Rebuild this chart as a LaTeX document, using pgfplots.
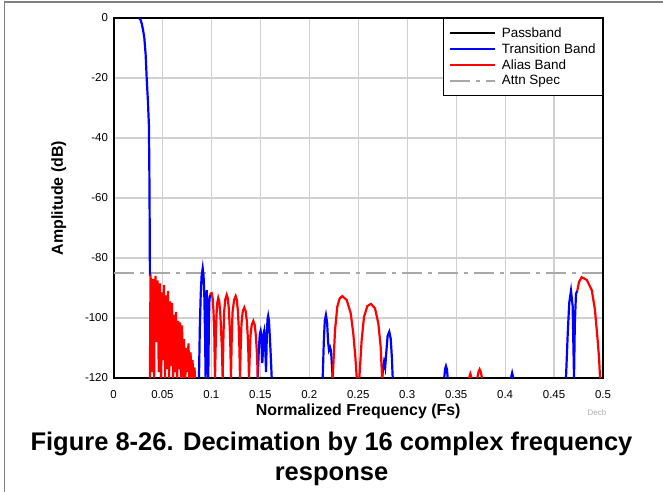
\documentclass[border=0pt]{standalone}
\usepackage{fontspec}
\setmainfont{Liberation Sans}
\usepackage{pgfplots}
\pgfplotsset{compat=1.18}
\definecolor{gridgray}{HTML}{D0D0D0}
\definecolor{specgray}{HTML}{A8A8A8}
\definecolor{framegray}{HTML}{808080}
\definecolor{tblue}{HTML}{0000FF}
\definecolor{ared}{HTML}{FF0000}
\definecolor{decbgray}{HTML}{B0B0B0}
\begin{document}
\begin{tikzpicture}
\path[use as bounding box] (0,0) rectangle (663bp,-492bp);
\draw[framegray, line width=1.5bp] (4.5bp,-492bp) -- (4.5bp,-2bp) -- (663bp,-2bp);
\begin{axis}[
 at={(113.5bp,-378bp)}, anchor=south west,
 width=489.5bp, height=360bp, scale only axis,
 xmin=0, xmax=0.5, ymin=-120, ymax=0,
 xtick={0,0.05,0.1,0.15,0.2,0.25,0.3,0.35,0.4,0.45,0.5},
 xticklabels={0,0.05,0.1,0.15,0.2,0.25,0.3,0.35,0.4,0.45,0.5},
 ytick={-120,-100,-80,-60,-40,-20,0},
 yticklabels={-120,-100,-80,-60,-40,-20,0},
 tick style={draw=none},
 grid=major, major grid style={gridgray, line width=1.2bp},
 axis line style={black, line width=2bp},
 ticklabel style={font=\fontsize{11.5}{13}\selectfont},
 xticklabel style={yshift=-9bp},
 yticklabel style={xshift=-2bp},
 xlabel={Normalized Frequency (Fs)}, ylabel={Amplitude (dB)},
 label style={font=\bfseries\fontsize{16}{18}\selectfont},
 xlabel style={yshift=2bp},
 ylabel style={yshift=12bp},
 unbounded coords=jump,
 legend cell align=left,
 legend style={at={(1,1)}, anchor=north east, draw=black, line width=1bp,
   font=\fontsize{13.5}{15}\selectfont, inner xsep=5bp, inner ysep=7bp,
   row sep=0.8bp},
 legend image code/.code={\draw[#1] (0bp,0bp) -- (45bp,0bp); \path (49bp,0bp);},
]
% attenuation spec (drawn first, behind curves)
\addplot[specgray, line width=2.2bp, dash pattern=on 20bp off 6bp on 4bp off 6bp, forget plot] coordinates {(0,-85) (0.5,-85)};
% passband
\addplot[black, line width=2.2bp] coordinates {(0,0) (0.0262,0)};
\addlegendentry{Passband}
% transition band
\addplot[tblue, line width=2.2bp] coordinates {
(0.0262,0) (0.0275,-0.5) (0.0288,-1.8) (0.0302,-4) (0.0315,-6.7) (0.0328,-12) (0.0339,-20) (0.0352,-28) (0.0362,-36) (0.0366,-50) (0.0369,-65) (0.0372,-86)
(0.05,nan)
(0.0873,-120) (0.0882,-103) (0.0891,-92) (0.09,-86) (0.0911,-83.4) (0.092,-86) (0.0928,-93) (0.0935,-105) (0.0941,-120)
(0.0945,-100) (0.0952,-90.7) (0.0959,-98) (0.0968,-120)
(0.0975,-100) (0.098,-94) (0.0986,-92.3)
(0.12,nan)
(0.1473,-120) (0.1485,-110) (0.1495,-105.3) (0.1503,-104.3) (0.1511,-106) (0.152,-115) (0.1528,-110) (0.1534,-105.3) (0.154,-104.3) (0.1548,-107) (0.1558,-118) (0.1566,-106) (0.1573,-100.5) (0.158,-99.3) (0.1588,-101) (0.1598,-107) (0.1607,-113) (0.1616,-120)
(0.19,nan)
(0.2137,-120) (0.2148,-108) (0.2158,-101) (0.217,-99) (0.2182,-101.5) (0.2192,-108) (0.2201,-110.7) (0.2212,-109.8) (0.2222,-111) (0.2239,-120)
(0.25,nan)
(0.2745,-120) (0.2755,-116) (0.2763,-114.6) (0.2775,-116.5) (0.2785,-112) (0.28,-106) (0.2817,-104.6) (0.2832,-107) (0.2843,-113) (0.2852,-120)
(0.3,nan)
(0.3378,-120) (0.3387,-117) (0.3396,-116) (0.3405,-117) (0.3414,-120)
(0.38,nan)
(0.406,-120) (0.4072,-118.3) (0.4084,-120)
(0.43,nan)
(0.4622,-120) (0.464,-105) (0.4655,-95) (0.4673,-90.9) (0.469,-96) (0.4704,-120)
(0.4712,-102) (0.4724,-92) (0.4737,-90.9)
};
\addlegendentry{Transition Band}
% alias band
\addplot[ared, line width=2.2bp] coordinates {
(0.0372,-120) (0.0378,-85.5) (0.0386,-92) (0.039,-118) (0.0396,-95) (0.0403,-87) (0.041,-100) (0.0415,-120) (0.0421,-94) (0.0429,-86) (0.0437,-95) (0.0441,-108) (0.0445,-92) (0.0449,-87.5) (0.0458,-105) (0.0462,-118) (0.0468,-93) (0.0475,-88.5) (0.0482,-102) (0.0486,-120) (0.049,-96) (0.0495,-91.5) (0.05,-105) (0.0505,-114) (0.051,-93) (0.0516,-89) (0.0523,-106) (0.0527,-120) (0.0531,-97) (0.0536,-92.5) (0.0543,-108) (0.0547,-117) (0.0552,-95) (0.0557,-91) (0.0564,-112) (0.0568,-120) (0.0572,-99) (0.0577,-94.5) (0.0584,-110) (0.0588,-116) (0.0593,-98) (0.0598,-95) (0.0605,-112) (0.0609,-120) (0.0613,-103) (0.0618,-99) (0.0625,-113) (0.0629,-118) (0.0633,-102) (0.0638,-98) (0.0645,-114) (0.065,-120) (0.0654,-105) (0.0659,-101) (0.0666,-114) (0.067,-117) (0.0674,-105) (0.0679,-101.5) (0.0686,-115) (0.069,-120) (0.0695,-106) (0.07,-102.5) (0.0707,-116) (0.0712,-120) (0.0716,-110) (0.072,-107) (0.0728,-118) (0.0733,-120) (0.0741,-113) (0.0746,-110) (0.0754,-118) (0.0758,-115) (0.0762,-111) (0.0766,-108.5) (0.0774,-120) (0.0782,-114) (0.0787,-111.5) (0.0796,-120) (0.0802,-116) (0.0807,-114) (0.0815,-120) (0.0822,-118) (0.0827,-116.5) (0.0833,-120)
(0.09,nan)
(0.0986,-92.3) (0.0995,-91.8) (0.1003,-91.7) (0.1013,-93.5) (0.1022,-98) (0.103,-106) (0.1037,-120)
(0.1045,-107) (0.1052,-99) (0.106,-95) (0.107,-93.3) (0.108,-94.5) (0.109,-98) (0.1099,-104) (0.1107,-110) (0.1115,-120)
(0.1123,-106) (0.113,-98) (0.1142,-93.8) (0.1156,-92.3) (0.1168,-93.5) (0.1178,-97) (0.1187,-103) (0.1194,-110) (0.12,-120)
(0.1208,-106) (0.1216,-98) (0.1232,-94) (0.1248,-92.7) (0.126,-94) (0.127,-97.5) (0.1279,-103) (0.1286,-110) (0.1292,-120)
(0.1299,-110) (0.1307,-102) (0.132,-97.8) (0.1336,-96.5) (0.135,-97.8) (0.1362,-101) (0.1371,-106) (0.1378,-112) (0.1384,-120)
(0.1391,-113) (0.1399,-106) (0.1412,-102.3) (0.1428,-101) (0.1442,-102.3) (0.1453,-105.5) (0.1462,-110) (0.1468,-114) (0.1473,-120)
(0.18,nan)
(0.2239,-120) (0.2263,-104) (0.2286,-96.2) (0.231,-93.5) (0.2337,-92.7) (0.2382,-94) (0.2423,-98.4) (0.2449,-105.1) (0.247,-112.9) (0.2484,-119.6) (0.2487,-120)
(0.25,nan)
(0.2511,-120) (0.2535,-107.3) (0.2559,-99.6) (0.2593,-96) (0.263,-95.3) (0.2671,-96.8) (0.2705,-101.8) (0.2729,-109.6) (0.2743,-119.6) (0.2745,-120)
(0.3,nan)
(0.3632,-120) (0.3645,-118.6) (0.3658,-120)
(0.37,nan)
(0.3716,-120) (0.3728,-118) (0.374,-117.1) (0.3752,-118) (0.3764,-120)
(0.42,nan)
(0.4737,-90.9) (0.4755,-88) (0.4782,-86.4) (0.4834,-87.3) (0.4885,-90.7) (0.4918,-97.3) (0.4942,-106.2) (0.4959,-112.9) (0.4969,-119.6) (0.4972,-120)
};
\addlegendentry{Alias Band}
\addlegendimage{specgray, line width=2.2bp, dash pattern=on 20bp off 6bp on 4bp off 6bp}
\addlegendentry{Attn Spec}
\end{axis}
\node[font=\bfseries\fontsize{25.6}{28}\selectfont, anchor=base] at (331.5bp,-450bp) {Figure 8-26. Decimation by 16 complex frequency};
\node[font=\bfseries\fontsize{25.6}{28}\selectfont, anchor=base] at (331.5bp,-480bp) {response};
\node[font=\fontsize{8}{9}\selectfont, text=decbgray] at (597bp,-413bp) {Decb};
\end{tikzpicture}
\end{document}
